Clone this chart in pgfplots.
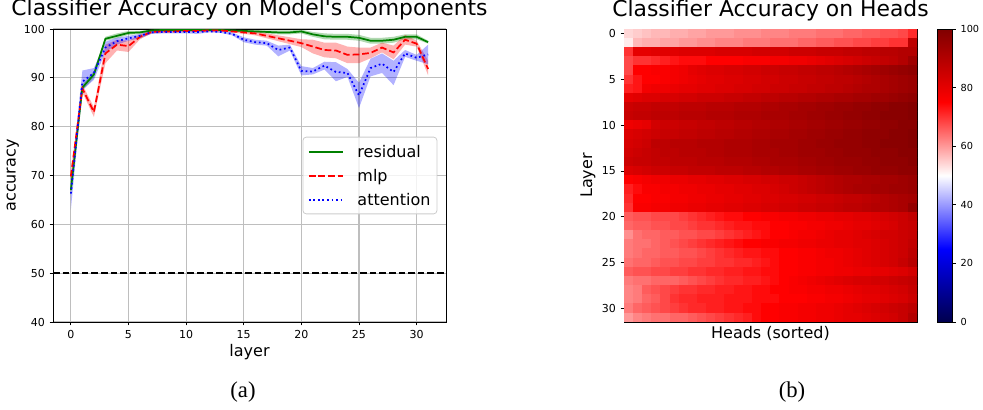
\documentclass[border=0pt]{standalone}
\usepackage{fontspec}
\setmainfont{DejaVu Sans}[Ligatures=TeXOff]
\newfontfamily\capfont{Liberation Serif}
\usepackage{pgfplots}
\pgfplotsset{compat=1.18}
\usepackage{pgfplotstable}
\usepgfplotslibrary{fillbetween}

\definecolor{mplgreen}{RGB}{0,128,0}
\definecolor{mplred}{RGB}{255,0,0}
\definecolor{mplblue}{RGB}{0,0,255}
\definecolor{gridgray}{RGB}{190,190,190}
\definecolor{legedge}{RGB}{204,204,204}

\tikzset{
  resline/.style={draw=mplgreen, line width=1.3pt},
  mlpline/.style={draw=mplred, line width=1.3pt, dash pattern=on 5pt off 2.2pt},
  attline/.style={draw=mplblue, line width=1.3pt, dash pattern=on 1.3pt off 2.1pt},
  legtext/.style={anchor=base west, inner sep=0pt, font=\fontsize{12}{14}\selectfont},
}

% mean accuracy and band (low/high) per layer
\pgfplotstableread{
layer res  resl  resh  mlp  mlpl mlph  att  attl atth
0  67.0 66.0  68.0  69.8 68.5 71.0  66.3 63.0 68.5
1  88.0 87.4  88.6  87.8 87.0 88.6  89.2 87.5 91.5
2  90.7 90.0  91.4  83.0 82.0 84.0  91.0 89.6 92.0
3  98.0 97.6  98.4  95.0 93.0 96.8  96.2 95.3 97.4
4  98.6 98.1  99.1  96.8 95.6 97.8  97.5 96.8 98.2
5  99.2 98.8  99.6  96.5 95.3 97.6  98.1 97.6 98.6
6  99.3 99.0  99.6  98.4 97.9 98.9  98.6 98.1 99.0
7  99.7 99.5  99.9  99.4 99.1 99.7  99.3 99.0 99.6
8  99.8 99.65 99.95 99.5 99.3 99.7  99.4 99.1 99.6
9  99.8 99.65 99.95 99.5 99.3 99.7  99.4 99.1 99.6
10 99.8 99.65 99.95 99.6 99.4 99.8  99.4 99.1 99.6
11 99.8 99.65 99.95 99.6 99.4 99.8  99.4 99.0 99.6
12 99.8 99.65 99.95 99.7 99.5 99.85 99.5 99.3 99.7
13 99.8 99.65 99.95 99.7 99.5 99.85 99.4 99.2 99.6
14 99.7 99.5  99.9  99.5 99.3 99.7  99.0 98.7 99.3
15 99.6 99.3  99.85 99.3 99.0 99.6  97.8 97.3 98.3
16 99.5 99.2  99.8  99.1 98.7 99.5  97.3 96.8 97.8
17 99.4 99.1  99.7  98.6 98.1 99.1  97.1 96.6 97.6
18 99.3 98.9  99.7  98.1 97.5 98.7  95.7 94.4 96.6
19 99.3 98.9  99.7  97.6 96.9 98.3  96.2 95.6 96.8
20 99.5 99.1  99.85 97.1 96.3 97.9  91.4 90.5 92.4
21 98.9 98.4  99.4  96.4 95.0 97.8  91.3 90.7 92.0
22 98.5 97.9  99.1  95.7 94.2 97.2  92.5 91.7 93.3
23 98.4 97.8  99.0  95.6 94.0 97.2  91.2 89.3 93.2
24 98.4 97.8  99.0  94.7 93.0 96.4  91.0 90.2 91.8
25 98.2 97.6  98.8  94.8 93.0 96.2  86.4 83.8 89.0
26 97.6 97.0  98.2  95.1 94.0 96.2  92.0 90.3 93.9
27 97.6 97.0  98.2  96.2 95.2 97.2  92.9 91.0 95.0
28 97.8 97.2  98.4  95.2 93.8 96.6  91.2 88.5 93.5
29 98.4 97.9  98.9  97.8 96.8 98.8  95.0 94.3 95.7
30 98.4 97.9  98.9  97.0 96.4 97.6  94.1 93.5 94.7
31 97.3 97.0  97.6  91.8 90.5 93.5  94.8 92.8 96.8
}\acc

\begin{document}
\begin{tikzpicture}

\begin{axis}[
  at={(39.75pt,66pt)}, anchor=south west,
  scale only axis, width=294.75pt, height=219.75pt,
  xmin=-1.55, xmax=32.55, ymin=40, ymax=100,
  xtick={0,5,...,30}, ytick={40,50,...,100},
  grid=major, major grid style={gridgray, line width=0.9pt},
  tick align=outside, tick pos=left, major tick length=2.6pt,
  tick style={black, line width=0.6pt},
  axis line style={line width=0.6pt},
  ticklabel style={font=\fontsize{8.25}{9}\selectfont},
  /pgf/number format/assume math mode=true,
  title={Classifier Accuracy on Model's Components},
  title style={font=\fontsize{16.4}{18}\selectfont, at={(0.5,1)}, anchor=base, yshift=3.75pt},
  xlabel={layer}, ylabel={accuracy},
  label style={font=\fontsize{12}{14}\selectfont},
  xlabel style={at={(axis description cs:0.5,-0.102)}, anchor=center},
  ylabel style={at={(axis description cs:-0.102,0.5)}, anchor=center},
]
  \addplot[name path=rl, draw=none, forget plot] table[x=layer, y=resl] {\acc};
  \addplot[name path=rh, draw=none, forget plot] table[x=layer, y=resh] {\acc};
  \addplot[mplgreen, fill opacity=0.3, draw=none, forget plot] fill between[of=rl and rh];
  \addplot[name path=ml, draw=none, forget plot] table[x=layer, y=mlpl] {\acc};
  \addplot[name path=mh, draw=none, forget plot] table[x=layer, y=mlph] {\acc};
  \addplot[mplred, fill opacity=0.3, draw=none, forget plot] fill between[of=ml and mh];
  \addplot[name path=al, draw=none, forget plot] table[x=layer, y=attl] {\acc};
  \addplot[name path=ah, draw=none, forget plot] table[x=layer, y=atth] {\acc};
  \addplot[mplblue, fill opacity=0.3, draw=none, forget plot] fill between[of=al and ah];

  \addplot[resline] table[x=layer, y=res] {\acc};
  \addplot[mlpline] table[x=layer, y=mlp] {\acc};
  \addplot[attline] table[x=layer, y=att] {\acc};
  \addplot[black, line width=1.1pt, dash pattern=on 5pt off 2.2pt]
    coordinates {(-1.55,50) (32.55,50)};

  % legend box, "center right" as in the source figure
  \draw[legedge, line width=0.6pt, fill=white, fill opacity=0.8, rounded corners=2.5pt]
    (axis description cs:0.636,0.369) rectangle (axis description cs:0.977,0.631);
  \draw[resline] (axis description cs:0.651,0.580) -- (axis description cs:0.738,0.580);
  \draw[mlpline] (axis description cs:0.651,0.498) -- (axis description cs:0.738,0.498);
  \draw[attline] (axis description cs:0.651,0.416) -- (axis description cs:0.738,0.416);
  \node[legtext, yshift=-4.3pt] at (axis description cs:0.774,0.580) {residual};
  \node[legtext, yshift=-4.3pt] at (axis description cs:0.774,0.498) {mlp};
  \node[legtext, yshift=-4.3pt] at (axis description cs:0.774,0.416) {attention};
\end{axis}

\begin{axis}[
  at={(468pt,66pt)}, anchor=south west,
  scale only axis, width=219.75pt, height=219.75pt,
  xmin=-0.5, xmax=31.5, ymin=-0.5, ymax=31.5, y dir=reverse,
  xtick=\empty, ytick={0,5,...,30},
  tick align=outside, tick pos=left, major tick length=2.6pt,
  tick style={black, line width=0.6pt},
  axis line style={line width=0.6pt},
  ticklabel style={font=\fontsize{8.25}{9}\selectfont},
  /pgf/number format/assume math mode=true,
  title={Classifier Accuracy on Heads},
  title style={font=\fontsize{16.4}{18}\selectfont, at={(0.5,1)}, anchor=base, yshift=3.75pt},
  xlabel={Heads (sorted)}, ylabel={Layer},
  label style={font=\fontsize{12}{14}\selectfont},
  xlabel style={at={(axis description cs:0.5,-0.0375)}, anchor=center},
  ylabel style={at={(axis description cs:-0.123,0.5)}, anchor=center},
  colormap={seismic}{rgb255=(0,0,77) rgb255=(0,0,255) rgb255=(255,255,255) rgb255=(255,0,0) rgb255=(128,0,0)},
  point meta min=0, point meta max=100,
  colorbar,
  colorbar style={at={(parent axis.north east)}, anchor=north west, xshift=6.75pt,
    width=11.25pt, scale only axis, ytick={0,20,...,100}, ytick pos=right, yticklabel pos=right,
    tick align=outside, major tick length=2.6pt, tick style={black, line width=0.6pt},
    axis line style={line width=0.6pt},
    ticklabel style={font=\fontsize{7.3}{8}\selectfont},
    /pgf/number format/assume math mode=true},
]
  \addplot[matrix plot*, mesh/cols=32, mesh/ordering=x varies, point meta=explicit]
  table[row sep=\\, meta=c] {
x y c\\
0 0 54\\1 0 55\\2 0 56\\3 0 57\\4 0 57\\5 0 58\\6 0 58\\7 0 59\\8 0 59\\9 0 60\\10 0 60\\11 0 60\\12 0 61\\13 0 61\\14 0 61\\15 0 62\\16 0 62\\17 0 62\\18 0 63\\19 0 63\\20 0 63\\21 0 64\\22 0 64\\23 0 64\\24 0 65\\25 0 65\\26 0 66\\27 0 66\\28 0 67\\29 0 67\\30 0 68\\31 0 71\\
0 1 52\\1 1 57\\2 1 58\\3 1 58\\4 1 59\\5 1 59\\6 1 60\\7 1 60\\8 1 61\\9 1 61\\10 1 62\\11 1 62\\12 1 62\\13 1 63\\14 1 63\\15 1 63\\16 1 64\\17 1 64\\18 1 64\\19 1 65\\20 1 65\\21 1 66\\22 1 66\\23 1 67\\24 1 67\\25 1 68\\26 1 68\\27 1 69\\28 1 69\\29 1 70\\30 1 70\\31 1 88\\
0 2 70\\1 2 80\\2 2 80\\3 2 81\\4 2 81\\5 2 81\\6 2 82\\7 2 82\\8 2 82\\9 2 82\\10 2 83\\11 2 83\\12 2 83\\13 2 83\\14 2 84\\15 2 84\\16 2 84\\17 2 84\\18 2 85\\19 2 85\\20 2 85\\21 2 86\\22 2 86\\23 2 86\\24 2 87\\25 2 87\\26 2 88\\27 2 88\\28 2 89\\29 2 89\\30 2 90\\31 2 90\\
0 3 68\\1 3 70\\2 3 70\\3 3 71\\4 3 72\\5 3 73\\6 3 74\\7 3 74\\8 3 74\\9 3 75\\10 3 75\\11 3 75\\12 3 75\\13 3 76\\14 3 76\\15 3 76\\16 3 77\\17 3 77\\18 3 78\\19 3 78\\20 3 79\\21 3 80\\22 3 81\\23 3 82\\24 3 83\\25 3 84\\26 3 85\\27 3 86\\28 3 87\\29 3 88\\30 3 90\\31 3 94\\
0 4 68\\1 4 75\\2 4 75\\3 4 76\\4 4 76\\5 4 77\\6 4 78\\7 4 80\\8 4 81\\9 4 82\\10 4 82\\11 4 83\\12 4 83\\13 4 84\\14 4 84\\15 4 85\\16 4 85\\17 4 86\\18 4 86\\19 4 87\\20 4 87\\21 4 88\\22 4 88\\23 4 89\\24 4 90\\25 4 91\\26 4 92\\27 4 93\\28 4 94\\29 4 95\\30 4 96\\31 4 97\\
0 5 70\\1 5 73\\2 5 75\\3 5 75\\4 5 76\\5 5 77\\6 5 78\\7 5 79\\8 5 80\\9 5 81\\10 5 81\\11 5 82\\12 5 82\\13 5 83\\14 5 83\\15 5 84\\16 5 84\\17 5 85\\18 5 85\\19 5 86\\20 5 86\\21 5 87\\22 5 87\\23 5 88\\24 5 88\\25 5 89\\26 5 90\\27 5 91\\28 5 92\\29 5 93\\30 5 94\\31 5 95\\
0 6 72\\1 6 73\\2 6 77\\3 6 78\\4 6 78\\5 6 79\\6 6 80\\7 6 80\\8 6 81\\9 6 81\\10 6 82\\11 6 82\\12 6 83\\13 6 83\\14 6 84\\15 6 84\\16 6 85\\17 6 85\\18 6 86\\19 6 86\\20 6 87\\21 6 87\\22 6 88\\23 6 88\\24 6 89\\25 6 90\\26 6 91\\27 6 91\\28 6 92\\29 6 93\\30 6 94\\31 6 95\\
0 7 80\\1 7 81\\2 7 82\\3 7 82\\4 7 83\\5 7 83\\6 7 84\\7 7 84\\8 7 85\\9 7 85\\10 7 85\\11 7 86\\12 7 86\\13 7 87\\14 7 87\\15 7 88\\16 7 88\\17 7 89\\18 7 89\\19 7 90\\20 7 90\\21 7 91\\22 7 91\\23 7 92\\24 7 92\\25 7 93\\26 7 93\\27 7 94\\28 7 94\\29 7 95\\30 7 96\\31 7 97\\
0 8 85\\1 8 86\\2 8 86\\3 8 87\\4 8 87\\5 8 87\\6 8 88\\7 8 88\\8 8 88\\9 8 89\\10 8 89\\11 8 89\\12 8 90\\13 8 90\\14 8 90\\15 8 91\\16 8 91\\17 8 92\\18 8 92\\19 8 93\\20 8 93\\21 8 94\\22 8 94\\23 8 95\\24 8 95\\25 8 96\\26 8 96\\27 8 97\\28 8 97\\29 8 98\\30 8 98\\31 8 99\\
0 9 86\\1 9 87\\2 9 87\\3 9 88\\4 9 88\\5 9 88\\6 9 89\\7 9 89\\8 9 89\\9 9 90\\10 9 90\\11 9 90\\12 9 91\\13 9 91\\14 9 91\\15 9 92\\16 9 92\\17 9 92\\18 9 93\\19 9 93\\20 9 94\\21 9 94\\22 9 95\\23 9 95\\24 9 96\\25 9 96\\26 9 97\\27 9 97\\28 9 98\\29 9 98\\30 9 98\\31 9 99\\
0 10 78\\1 10 79\\2 10 80\\3 10 84\\4 10 85\\5 10 85\\6 10 86\\7 10 86\\8 10 87\\9 10 87\\10 10 88\\11 10 88\\12 10 89\\13 10 89\\14 10 90\\15 10 90\\16 10 91\\17 10 91\\18 10 92\\19 10 92\\20 10 93\\21 10 93\\22 10 94\\23 10 94\\24 10 95\\25 10 95\\26 10 96\\27 10 96\\28 10 97\\29 10 97\\30 10 98\\31 10 98\\
0 11 82\\1 11 83\\2 11 84\\3 11 85\\4 11 86\\5 11 86\\6 11 87\\7 11 87\\8 11 88\\9 11 88\\10 11 89\\11 11 89\\12 11 90\\13 11 90\\14 11 91\\15 11 91\\16 11 92\\17 11 92\\18 11 93\\19 11 93\\20 11 94\\21 11 94\\22 11 95\\23 11 95\\24 11 96\\25 11 96\\26 11 97\\27 11 97\\28 11 97\\29 11 98\\30 11 98\\31 11 99\\
0 12 83\\1 12 84\\2 12 85\\3 12 88\\4 12 88\\5 12 89\\6 12 89\\7 12 89\\8 12 90\\9 12 90\\10 12 90\\11 12 91\\12 12 91\\13 12 91\\14 12 92\\15 12 92\\16 12 93\\17 12 93\\18 12 93\\19 12 94\\20 12 94\\21 12 95\\22 12 95\\23 12 96\\24 12 96\\25 12 96\\26 12 97\\27 12 97\\28 12 98\\29 12 98\\30 12 98\\31 12 99\\
0 13 84\\1 13 85\\2 13 86\\3 13 87\\4 13 88\\5 13 88\\6 13 89\\7 13 89\\8 13 89\\9 13 90\\10 13 90\\11 13 91\\12 13 91\\13 13 91\\14 13 92\\15 13 92\\16 13 92\\17 13 93\\18 13 93\\19 13 94\\20 13 94\\21 13 94\\22 13 95\\23 13 95\\24 13 96\\25 13 96\\26 13 96\\27 13 97\\28 13 97\\29 13 97\\30 13 98\\31 13 98\\
0 14 85\\1 14 86\\2 14 86\\3 14 87\\4 14 87\\5 14 88\\6 14 88\\7 14 88\\8 14 89\\9 14 89\\10 14 89\\11 14 90\\12 14 90\\13 14 90\\14 14 91\\15 14 91\\16 14 92\\17 14 92\\18 14 92\\19 14 93\\20 14 93\\21 14 94\\22 14 94\\23 14 95\\24 14 95\\25 14 95\\26 14 96\\27 14 96\\28 14 97\\29 14 97\\30 14 97\\31 14 98\\
0 15 82\\1 15 83\\2 15 84\\3 15 85\\4 15 85\\5 15 86\\6 15 86\\7 15 87\\8 15 87\\9 15 87\\10 15 88\\11 15 88\\12 15 88\\13 15 89\\14 15 89\\15 15 90\\16 15 90\\17 15 91\\18 15 91\\19 15 92\\20 15 92\\21 15 93\\22 15 93\\23 15 94\\24 15 94\\25 15 95\\26 15 95\\27 15 96\\28 15 96\\29 15 96\\30 15 97\\31 15 97\\
0 16 75\\1 16 76\\2 16 77\\3 16 78\\4 16 78\\5 16 79\\6 16 79\\7 16 80\\8 16 80\\9 16 81\\10 16 81\\11 16 82\\12 16 82\\13 16 83\\14 16 83\\15 16 84\\16 16 84\\17 16 85\\18 16 85\\19 16 86\\20 16 87\\21 16 88\\22 16 89\\23 16 90\\24 16 91\\25 16 91\\26 16 92\\27 16 92\\28 16 93\\29 16 93\\30 16 94\\31 16 95\\
0 17 72\\1 17 74\\2 17 76\\3 17 76\\4 17 77\\5 17 77\\6 17 78\\7 17 78\\8 17 79\\9 17 79\\10 17 80\\11 17 80\\12 17 81\\13 17 81\\14 17 82\\15 17 82\\16 17 83\\17 17 84\\18 17 85\\19 17 86\\20 17 87\\21 17 88\\22 17 89\\23 17 90\\24 17 91\\25 17 92\\26 17 92\\27 17 93\\28 17 93\\29 17 94\\30 17 94\\31 17 95\\
0 18 71\\1 18 75\\2 18 75\\3 18 76\\4 18 76\\5 18 77\\6 18 77\\7 18 78\\8 18 78\\9 18 79\\10 18 79\\11 18 80\\12 18 80\\13 18 81\\14 18 81\\15 18 82\\16 18 82\\17 18 83\\18 18 83\\19 18 84\\20 18 84\\21 18 85\\22 18 85\\23 18 86\\24 18 87\\25 18 87\\26 18 88\\27 18 89\\28 18 90\\29 18 91\\30 18 92\\31 18 93\\
0 19 70\\1 19 76\\2 19 76\\3 19 77\\4 19 77\\5 19 78\\6 19 78\\7 19 79\\8 19 79\\9 19 80\\10 19 80\\11 19 81\\12 19 81\\13 19 82\\14 19 82\\15 19 83\\16 19 83\\17 19 84\\18 19 84\\19 19 85\\20 19 85\\21 19 86\\22 19 86\\23 19 87\\24 19 88\\25 19 88\\26 19 89\\27 19 90\\28 19 90\\29 19 91\\30 19 92\\31 19 96\\
0 20 66\\1 20 67\\2 20 67\\3 20 68\\4 20 68\\5 20 68\\6 20 69\\7 20 70\\8 20 71\\9 20 72\\10 20 73\\11 20 74\\12 20 74\\13 20 75\\14 20 75\\15 20 76\\16 20 76\\17 20 77\\18 20 77\\19 20 78\\20 20 78\\21 20 79\\22 20 79\\23 20 80\\24 20 80\\25 20 81\\26 20 81\\27 20 82\\28 20 83\\29 20 84\\30 20 85\\31 20 87\\
0 21 65\\1 21 66\\2 21 66\\3 21 67\\4 21 67\\5 21 68\\6 21 68\\7 21 69\\8 21 70\\9 21 70\\10 21 71\\11 21 72\\12 21 73\\13 21 73\\14 21 74\\15 21 74\\16 21 75\\17 21 75\\18 21 76\\19 21 76\\20 21 77\\21 21 77\\22 21 78\\23 21 78\\24 21 79\\25 21 80\\26 21 80\\27 21 81\\28 21 82\\29 21 83\\30 21 85\\31 21 86\\
0 22 61\\1 22 64\\2 22 65\\3 22 65\\4 22 66\\5 22 66\\6 22 67\\7 22 67\\8 22 68\\9 22 68\\10 22 69\\11 22 70\\12 22 71\\13 22 72\\14 22 73\\15 22 74\\16 22 75\\17 22 75\\18 22 76\\19 22 77\\20 22 77\\21 22 78\\22 22 79\\23 22 80\\24 22 80\\25 22 81\\26 22 82\\27 22 83\\28 22 84\\29 22 84\\30 22 85\\31 22 86\\
0 23 63\\1 23 64\\2 23 64\\3 23 65\\4 23 66\\5 23 67\\6 23 68\\7 23 69\\8 23 70\\9 23 71\\10 23 72\\11 23 73\\12 23 74\\13 23 75\\14 23 75\\15 23 76\\16 23 76\\17 23 77\\18 23 77\\19 23 78\\20 23 78\\21 23 79\\22 23 79\\23 23 80\\24 23 80\\25 23 81\\26 23 81\\27 23 82\\28 23 83\\29 23 84\\30 23 85\\31 23 87\\
0 24 63\\1 24 64\\2 24 65\\3 24 65\\4 24 66\\5 24 66\\6 24 67\\7 24 67\\8 24 68\\9 24 69\\10 24 70\\11 24 71\\12 24 72\\13 24 73\\14 24 73\\15 24 74\\16 24 74\\17 24 75\\18 24 75\\19 24 76\\20 24 76\\21 24 77\\22 24 78\\23 24 78\\24 24 79\\25 24 80\\26 24 81\\27 24 82\\28 24 83\\29 24 84\\30 24 85\\31 24 88\\
0 25 64\\1 25 65\\2 25 65\\3 25 66\\4 25 67\\5 25 67\\6 25 68\\7 25 68\\8 25 69\\9 25 69\\10 25 70\\11 25 70\\12 25 71\\13 25 71\\14 25 72\\15 25 73\\16 25 74\\17 25 75\\18 25 75\\19 25 76\\20 25 76\\21 25 77\\22 25 77\\23 25 78\\24 25 79\\25 25 80\\26 25 81\\27 25 82\\28 25 83\\29 25 84\\30 25 86\\31 25 89\\
0 26 66\\1 26 67\\2 26 67\\3 26 68\\4 26 68\\5 26 69\\6 26 69\\7 26 70\\8 26 70\\9 26 71\\10 26 71\\11 26 72\\12 26 72\\13 26 73\\14 26 73\\15 26 74\\16 26 74\\17 26 75\\18 26 75\\19 26 76\\20 26 76\\21 26 77\\22 26 77\\23 26 78\\24 26 78\\25 26 79\\26 26 79\\27 26 80\\28 26 80\\29 26 81\\30 26 82\\31 26 84\\
0 27 63\\1 27 64\\2 27 64\\3 27 65\\4 27 65\\5 27 65\\6 27 66\\7 27 67\\8 27 68\\9 27 69\\10 27 70\\11 27 71\\12 27 71\\13 27 72\\14 27 72\\15 27 73\\16 27 74\\17 27 75\\18 27 76\\19 27 77\\20 27 78\\21 27 79\\22 27 80\\23 27 81\\24 27 82\\25 27 83\\26 27 83\\27 27 84\\28 27 84\\29 27 85\\30 27 86\\31 27 87\\
0 28 62\\1 28 63\\2 28 66\\3 28 67\\4 28 68\\5 28 69\\6 28 70\\7 28 70\\8 28 71\\9 28 71\\10 28 72\\11 28 72\\12 28 73\\13 28 73\\14 28 74\\15 28 74\\16 28 75\\17 28 75\\18 28 76\\19 28 76\\20 28 77\\21 28 77\\22 28 78\\23 28 78\\24 28 79\\25 28 80\\26 28 81\\27 28 81\\28 28 82\\29 28 83\\30 28 84\\31 28 86\\
0 29 62\\1 29 63\\2 29 65\\3 29 66\\4 29 68\\5 29 70\\6 29 71\\7 29 71\\8 29 72\\9 29 72\\10 29 72\\11 29 73\\12 29 73\\13 29 73\\14 29 74\\15 29 74\\16 29 74\\17 29 75\\18 29 75\\19 29 75\\20 29 76\\21 29 76\\22 29 77\\23 29 77\\24 29 78\\25 29 79\\26 29 80\\27 29 80\\28 29 81\\29 29 82\\30 29 83\\31 29 85\\
0 30 63\\1 30 65\\2 30 66\\3 30 67\\4 30 68\\5 30 69\\6 30 70\\7 30 71\\8 30 71\\9 30 72\\10 30 72\\11 30 73\\12 30 73\\13 30 74\\14 30 74\\15 30 75\\16 30 75\\17 30 76\\18 30 76\\19 30 77\\20 30 77\\21 30 78\\22 30 78\\23 30 79\\24 30 80\\25 30 81\\26 30 82\\27 30 83\\28 30 84\\29 30 85\\30 30 86\\31 30 88\\
0 31 60\\1 31 62\\2 31 63\\3 31 64\\4 31 64\\5 31 65\\6 31 65\\7 31 66\\8 31 67\\9 31 68\\10 31 69\\11 31 70\\12 31 71\\13 31 72\\14 31 74\\15 31 75\\16 31 75\\17 31 76\\18 31 76\\19 31 77\\20 31 77\\21 31 78\\22 31 78\\23 31 79\\24 31 80\\25 31 80\\26 31 81\\27 31 82\\28 31 83\\29 31 84\\30 31 86\\31 31 90\\
};
\end{axis}

\node[font=\capfont\fontsize{17}{19}\selectfont] at (182.25pt,13.5pt) {(a)};
\node[font=\capfont\fontsize{17}{19}\selectfont] at (594pt,13.5pt) {(b)};
\pgfresetboundingbox
\useasboundingbox (0,0) rectangle (737.25pt,307.5pt);
\end{tikzpicture}
\end{document}
